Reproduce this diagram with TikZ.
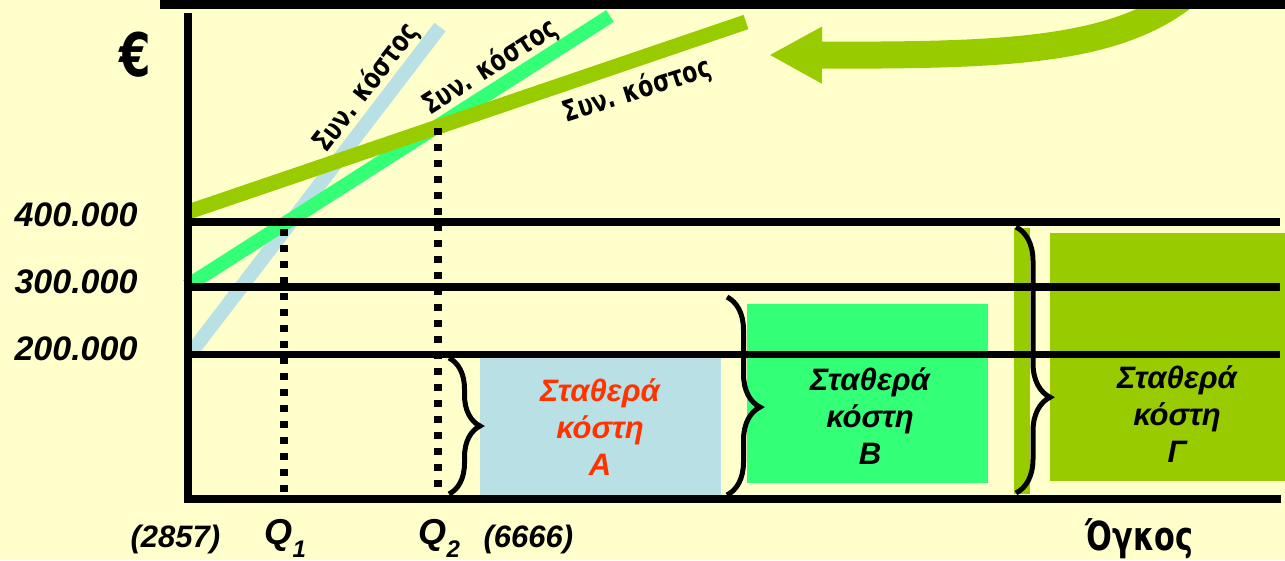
\documentclass[tikz,border=0pt]{standalone}
\usepackage{fontspec}
\setmainfont{Liberation Sans}
\newfontfamily\condfont[FakeStretch=0.84]{DejaVu Sans Condensed}
\usetikzlibrary{arrows.meta,decorations.pathreplacing}
\definecolor{bgyellow}{HTML}{FFFFCC}
\definecolor{costA}{HTML}{B9E0E4}
\definecolor{costB}{HTML}{33FF77}
\definecolor{costC}{HTML}{99CC00}
\definecolor{redtext}{HTML}{FF3300}

\begin{document}
\begin{tikzpicture}[x=1pt,y=-1pt,
  levelline/.style={line width=7.5pt},
  costline/.style={line width=14pt},
  dropline/.style={line width=7.5pt, dash pattern=on 7.3pt off 8.7pt},
  fixbrace/.style 2 args={line width=5pt, decorate, decoration={brace, amplitude=#1, aspect=#2}},
  value/.style={font=\bfseries\itshape\fontsize{34}{40}\selectfont, anchor=base east},
  qlabel/.style={font=\bfseries\itshape\fontsize{31}{36}\selectfont, anchor=base west},
  costlabel/.style={font=\condfont\bfseries\fontsize{29}{32}\selectfont},
  fixtext/.style={font=\bfseries\itshape\fontsize{31}{37}\selectfont, align=center}
]
\useasboundingbox (0,0) rectangle (1285,560);
\fill[bgyellow] (0,0) rectangle (1285,560);

% arrow and top border
\draw[costC, line width=27pt, -{Triangle[length=53pt,width=53pt]}]
  (1182,-2) .. controls (1110,52) and (1000,55.5) .. (769,55);
\fill (160,0) rectangle (1285,9);

% fixed cost boxes
\fill[costA] (480,358) rectangle (721,495);
\fill[costB] (747,304) rectangle (988,483);
\fill[costC] (1050,233) rectangle (1285,481);
\fill[costC] (1014,228) rectangle (1030,494);

% total cost lines
\coordinate (a0) at (190,354);
\coordinate (a1) at (440,27);
\coordinate (b0) at (187,286);
\coordinate (b1) at (610,16);
\coordinate (c0) at (188,212);
\coordinate (c1) at (746,22);
\draw[costline, costA] (a0) -- (a1);
\draw[costline, costB] (b0) -- (b1);
\draw[costline, costC, line width=15pt] (c0) -- (c1);

% levels and axes
\draw[levelline] (187,222) -- (1280,222);
\draw[levelline] (187,287) -- (1280,287);
\draw[levelline] (187,354.5) -- (1280,354.5);
\draw[line width=8pt] (187.5,13) -- (187.5,498.5) -- (1281,498.5);

% break-even points
\coordinate (q1) at (284,229);
\coordinate (q1axis) at (284,494);
\coordinate (q2) at (438,128);
\coordinate (q2axis) at (438,494);
\draw[dropline] (q1) -- (q1axis);
\draw[dropline] (q2) -- (q2axis);

% braces
\draw[fixbrace={31pt}{0.5}] (449,358) -- (449,494);
\draw[fixbrace={33pt}{0.556}] (727,297) -- (727,495);
\draw[fixbrace={34pt}{0.64}] (1016,227) -- (1016,493);

% labels
\node (euro) [font=\condfont\bfseries\fontsize{60}{60}\selectfont] at (135,55) {€};
\node (v400) [value] at (141,226) {400.000};
\node (v300) [value] at (141,293) {300.000};
\node (v200) [value] at (141,360) {200.000};
\node (lowq) [qlabel] at (127,547) {(2857)};
\node (qa) [qlabel, font=\bfseries\itshape\fontsize{36}{40}\selectfont] at (261,544) {Q\raisebox{-13pt}{\fontsize{24}{24}\selectfont 1}};
\node (qb) [qlabel, font=\bfseries\itshape\fontsize{36}{40}\selectfont] at (415,544) {Q\raisebox{-13pt}{\fontsize{24}{24}\selectfont 2}};
\node (highq) [qlabel] at (480,547) {(6666)};
\node (volume) [font=\condfont\bfseries\fontsize{40}{40}\selectfont, anchor=base west] at (1082,550) {Όγκος};

\node (ta) [costlabel, rotate=52.5] at (366,88) {Συν. κόστος};
\node (tb) [costlabel, rotate=32.4] at (490,67) {Συν. κόστος};
\node (tc) [costlabel, rotate=17.7] at (637,91) {Συν. κόστος};

\node (fixa) [fixtext, text=redtext] at (600,427) {Σταθερά\\κόστη\\A};
\node (fixb) [fixtext] at (870,416) {Σταθερά\\κόστη\\B};
\node (fixc) [fixtext] at (1177,414) {Σταθερά\\κόστη\\Γ};
\end{tikzpicture}
\end{document}
